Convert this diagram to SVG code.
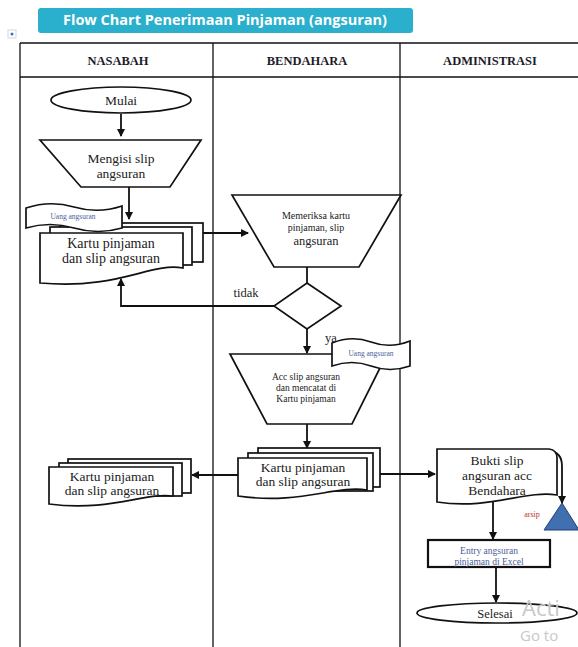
<svg xmlns="http://www.w3.org/2000/svg" width="578" height="647" viewBox="0 0 578 647">
<style>
.ln{fill:none;stroke:#111;stroke-width:1.8}
.sh{fill:#fff;stroke:#111;stroke-width:1.7}
.grid{fill:none;stroke:#111;stroke-width:1.3}
.t{font-family:"Liberation Serif","Times New Roman",serif;fill:#222;text-anchor:middle}
.hd{font-family:"Liberation Serif","Times New Roman",serif;font-weight:bold;font-size:12.5px;fill:#1c1c2a;text-anchor:middle}
.sm{font-family:"Liberation Serif","Times New Roman",serif;fill:#4a5f9a;text-anchor:middle}
</style>
<defs>
<marker id="ah" markerWidth="8" markerHeight="8" refX="7" refY="4" orient="auto" markerUnits="userSpaceOnUse">
<path d="M0,0 L8,4 L0,8 Z" fill="#111"/>
</marker>
</defs>
<rect width="578" height="647" fill="#fff"/>

<g id="title">
<rect x="38" y="8" width="375" height="25" rx="3" fill="#2aafcc"/>
<text x="225" y="25" font-family="'Open Sans','Noto Sans',sans-serif" font-weight="bold" font-size="14.5" fill="#fff" text-anchor="middle">Flow Chart Penerimaan Pinjaman (angsuran)</text>
</g>
<g id="anchor">
<rect x="8" y="30" width="8" height="8" fill="#fff" stroke="#ccc" stroke-width="0.8"/>
<circle cx="12" cy="34" r="1.5" fill="#3a6fd0"/>
</g>

<g id="table">
<path class="grid" d="M20,43 H578 M20,77 H578 M20,43 V647 M213,43 V647 M400,43 V647"/>
<text class="hd" x="118" y="65">NASABAH</text>
<text class="hd" x="307" y="65">BENDAHARA</text>
<text class="hd" x="490" y="65">ADMINISTRASI</text>
</g>

<g id="connectors">
<path class="ln" d="M121,114 V136" marker-end="url(#ah)"/>
<path class="ln" d="M129,187 V219" marker-end="url(#ah)"/>
<path class="ln" d="M188,233 H248" marker-end="url(#ah)"/>
<path class="ln" d="M307,267 V283"/>
<path class="ln" d="M274,306 H121 V279" marker-end="url(#ah)"/>
<path class="ln" d="M307,329 V353" marker-end="url(#ah)"/>
<path class="ln" d="M307,424 V448" marker-end="url(#ah)"/>
<path class="ln" d="M238,475 H192" marker-end="url(#ah)"/>
<path class="ln" d="M367,474 H435" marker-end="url(#ah)"/>
<path class="ln" d="M549,451 Q562,452 562,466 V503" marker-end="url(#ah)"/>
<path class="ln" d="M493,502 V539" marker-end="url(#ah)"/>
<path class="ln" d="M496,567 V602" marker-end="url(#ah)"/>
</g>

<g id="mulai">
<ellipse class="sh" cx="121" cy="100" rx="70" ry="13" stroke-width="1.2"/>
<text class="t" x="121" y="105" font-size="13.5">Mulai</text>
</g>

<g id="mengisi">
<path class="sh" d="M40,140 H201 L170,187 H81 Z" stroke-width="1.2"/>
<text class="t" x="121" y="163" font-size="13.5">Mengisi slip</text>
<text class="t" x="121" y="178" font-size="13.5">angsuran</text>
</g>

<g id="kartu1">
<rect class="sh" x="60" y="223" width="143" height="39"/>
<rect class="sh" x="50" y="227" width="142" height="38"/>
<path class="sh" d="M40,233 H183 V268 C150,262 120,290 40,283 Z"/>
<text class="t" x="111" y="248" font-size="14">Kartu pinjaman</text>
<text class="t" x="111" y="263" font-size="14">dan  slip angsuran</text>
</g>

<g id="uang1">
<path class="sh" d="M26,208 Q50,200 74,207 T122,206 V228 Q98,235 74,228 T26,228 Z" stroke-width="1.2"/>
<text class="sm" x="73" y="219" font-size="7.5">Uang angsuran</text>
</g>

<g id="memeriksa">
<path class="sh" d="M232,195 H401 L359,267 H274 Z"/>
<text class="t" x="316" y="219" font-size="10">Memeriksa kartu</text>
<text class="t" x="316" y="231" font-size="10">pinjaman, slip</text>
<text class="t" x="316" y="245" font-size="12.5">angsuran</text>
</g>

<g id="keputusan">
<path class="sh" d="M307,283 L341,306 L307,329 L274,306 Z" stroke-width="2.2"/>
<text class="t" x="246" y="297" font-size="12.5">tidak</text>
<text class="t" x="331" y="342" font-size="12.5">ya</text>
</g>

<g id="acc">
<path class="sh" d="M230,354 H387 L352,424 H267 Z" stroke-width="1.2"/>
<text class="t" x="306" y="380" font-size="9.5">Acc slip angsuran</text>
<text class="t" x="306" y="391" font-size="9.5">dan mencatat di</text>
<text class="t" x="306" y="402" font-size="9.5">Kartu pinjaman</text>
</g>

<g id="uang2">
<path class="sh" d="M332,343 Q352,335 371,342 T410,341 V366 Q390,373 371,366 T332,366 Z" stroke-width="1.2"/>
<text class="sm" x="371" y="356" font-size="7.5">Uang angsuran</text>
</g>

<g id="kartu2">
<rect class="sh" x="258" y="448" width="122" height="39"/>
<rect class="sh" x="248" y="453" width="125" height="38"/>
<path class="sh" d="M238,458 H367 V490 C335,485 300,505 238,496 Z"/>
<text class="t" x="303" y="472" font-size="13.5">Kartu pinjaman</text>
<text class="t" x="303" y="486" font-size="13.5">dan slip angsuran</text>
</g>

<g id="kartu3">
<rect class="sh" x="68" y="459" width="123" height="34"/>
<rect class="sh" x="59" y="463" width="123" height="33"/>
<path class="sh" d="M49,467 H173 V496 C145,492 110,512 49,504 Z"/>
<text class="t" x="112" y="481" font-size="13.5">Kartu pinjaman</text>
<text class="t" x="112" y="495" font-size="13.5">dan slip angsuran</text>
</g>

<g id="bukti">
<path class="sh" d="M437,449 H549 Q557,450 557,458 V495 C525,490 490,510 437,502 Z" stroke-width="1.2"/>
<text class="t" x="497" y="465" font-size="13.5">Bukti slip</text>
<text class="t" x="497" y="480" font-size="13.5">angsuran acc</text>
<text class="t" x="497" y="495" font-size="13.5">Bendahara</text>
</g>

<g id="arsip">
<path d="M562,503 L579,530 L544,530 Z" fill="#4070b0" stroke="#1f3f6e" stroke-width="1"/>
<text x="532" y="517" font-family="'Liberation Serif',serif" font-size="8" fill="#c03030" text-anchor="middle">arsip</text>
</g>

<g id="entry">
<rect x="428" y="540" width="122" height="27" fill="#fff" stroke="#111" stroke-width="2.2"/>
<text class="sm" x="489" y="554" font-size="9.5">Entry angsuran</text>
<text class="sm" x="489" y="565" font-size="9.5">pinjaman di Excel</text>
</g>

<g id="selesai">
<ellipse class="sh" cx="497" cy="613" rx="80" ry="10" stroke-width="1.2"/>
<text class="t" x="495" y="618" font-size="12.5">Selesai</text>
</g>

<g id="watermark" font-family="'Open Sans','Noto Sans',sans-serif" fill="#c8c8c8">
<text x="522" y="616" font-size="22">Acti</text>
<text x="520" y="641" font-size="15">Go to</text>
</g>
</svg>
